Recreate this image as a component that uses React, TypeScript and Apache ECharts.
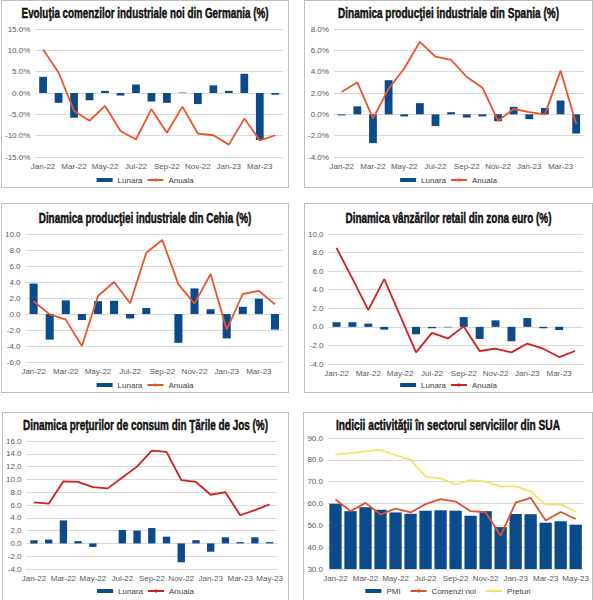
import { useEffect, useRef } from 'react'
import * as echarts from 'echarts'

const months16 = ['Jan-22', 'Feb-22', 'Mar-22', 'Apr-22', 'May-22', 'Jun-22', 'Jul-22', 'Aug-22',
  'Sep-22', 'Oct-22', 'Nov-22', 'Dec-22', 'Jan-23', 'Feb-23', 'Mar-23', 'Apr-23']
const months17 = [...months16, 'May-23']

// Germania - comenzi industriale noi
const deLunara = [3.8, -2.3, -5.8, -1.7, 0.5, -0.6, 2.0, -2.0, -2.3, 0.1, -2.6, 1.8, 0.5, 4.5, -11.0, -0.4]
const deAnuala = [10.2, 4.8, -4.2, -6.5, -3.0, -8.9, -10.9, -3.8, -9.3, -3.2, -9.5, -9.9, -12.1, -6.0, -11.1, -9.9]

// Spania - productie industriala
const esLunara = [-0.1, 0.75, -2.7, 3.2, -0.2, 1.05, -1.1, 0.2, -0.3, -0.2, -0.65, 0.7, -0.45, 0.6, 1.3, -1.8]
const esAnuala = [2.1, 3.0, -0.4, 2.4, 4.3, 6.8, 5.4, 5.1, 3.5, 2.5, -0.6, 0.5, 0.2, 0.0, 4.1, -0.9]

// Cehia - productie industriala
const czLunara = [3.8, -3.2, 1.7, -0.75, 1.6, 1.65, -0.55, 0.75, 0, -3.6, 3.2, 0.6, -3.05, 0.9, 1.9, -1.95]
const czAnuala = [1.6, -0.05, -0.7, -4.0, 2.25, 4.0, 1.35, 7.65, 9.25, 3.7, 1.3, 5.0, -1.95, 2.5, 2.9, 1.2]

// Zona euro - vanzari retail
const euLunara = [0.5, 0.5, 0.35, -0.3, 0, -0.8, -0.15, -0.05, 1.05, -1.3, 0.7, -1.55, 0.95, -0.15, -0.35, 0]
const euAnuala = [8.5, 5.2, 1.8, 5.15, 1.2, -2.75, -0.65, -1.25, 0.05, -2.6, -2.35, -2.75, -1.8, -2.35, -3.25, -2.6]

// Tarile de Jos - preturi de consum
const nlLunara = [0.5, 0.6, 3.6, 0.35, -0.55, 0, 2.1, 2.0, 2.4, 1.05, -2.95, 0.5, -1.3, 0.95, 0.2, 0.95, 0.2]
const nlAnuala = [6.4, 6.2, 9.7, 9.6, 8.8, 8.6, 10.3, 12.0, 14.5, 14.3, 9.9, 9.6, 7.6, 8.0, 4.4, 5.2, 6.1]

// SUA - sectorul serviciilor
const usPmi = [59.9, 56.5, 58.3, 57.1, 55.9, 55.3, 56.7, 56.9, 56.7, 54.4, 56.5, 49.2, 55.2, 55.1, 51.2, 51.9, 50.3]
const usComenzi = [61.8, 56.5, 60.3, 54.9, 57.7, 55.9, 59.7, 62.0, 60.9, 56.5, 56.0, 45.2, 60.4, 62.6, 52.2, 56.1, 52.9]
const usPreturi = [82.4, 83.1, 83.9, 84.6, 82.1, 80.1, 72.3, 71.5, 68.7, 70.7, 70.0, 67.8, 67.8, 65.6, 59.5, 59.6, 56.2]

const BLUE = '#0b4a8b'
const ORANGE = '#e8552b'
const RED = '#d01f1f'
const YELLOW = '#f2e266'

const TITLE_FONT = 'bold 15px "Liberation Sans"'

type Panel = {
  title: string
  titleWidth: number
  box: [number, number, number, number]
  grid: [number, number, number, number]
  titleY: number
  legendY: number
  legendGap: number
  cats: string[]
  min: number
  max: number
  interval: number
  pct: boolean
  barWidth: string
  series: { name: string; type: 'bar' | 'line'; data: number[]; color: string }[]
}

const panels: Panel[] = [
  {
    title: 'Evoluţia comenzilor industriale noi din Germania (%)', titleWidth: 247,
    box: [1, 0, 288, 188], grid: [32, 29, 283, 157], titleY: 13, legendY: 183, legendGap: 4,
    cats: months16, min: -15, max: 15, interval: 5, pct: true, barWidth: '50%',
    series: [
      { name: 'Lunara', type: 'bar', data: deLunara, color: BLUE },
      { name: 'Anuala', type: 'line', data: deAnuala, color: ORANGE },
    ],
  },
  {
    title: 'Dinamica producţiei industriale din Spania (%)', titleWidth: 221,
    box: [304, 0, 289, 188], grid: [331, 29, 584, 157], titleY: 13, legendY: 183, legendGap: 4,
    cats: months16, min: -4, max: 8, interval: 2, pct: true, barWidth: '50%',
    series: [
      { name: 'Lunara', type: 'bar', data: esLunara, color: BLUE },
      { name: 'Anuala', type: 'line', data: esAnuala, color: ORANGE },
    ],
  },
  {
    title: 'Dinamica producţiei industriale din Cehia (%)', titleWidth: 213,
    box: [1, 203, 288, 190], grid: [22, 234, 283, 362], titleY: 218, legendY: 388, legendGap: 4,
    cats: months16, min: -6, max: 10, interval: 2, pct: false, barWidth: '50%',
    series: [
      { name: 'Lunara', type: 'bar', data: czLunara, color: BLUE },
      { name: 'Anuala', type: 'line', data: czAnuala, color: ORANGE },
    ],
  },
  {
    title: 'Dinamica vânzărilor retail din zona euro (%)', titleWidth: 206,
    box: [304, 203, 289, 190], grid: [326, 234, 583, 364], titleY: 218, legendY: 388, legendGap: 4,
    cats: months16, min: -4, max: 10, interval: 2, pct: false, barWidth: '50%',
    series: [
      { name: 'Lunara', type: 'bar', data: euLunara, color: BLUE },
      { name: 'Anuala', type: 'line', data: euAnuala, color: RED },
    ],
  },
  {
    title: 'Dinamica preţurilor de consum din Ţările de Jos (%)', titleWidth: 245,
    box: [2, 412, 287, 190], grid: [25, 441, 277, 569], titleY: 425, legendY: 594, legendGap: 4,
    cats: months17, min: -4, max: 16, interval: 2, pct: false, barWidth: '50%',
    series: [
      { name: 'Lunara', type: 'bar', data: nlLunara, color: BLUE },
      { name: 'Anuala', type: 'line', data: nlAnuala, color: RED },
    ],
  },
  {
    title: 'Indicii activităţii în sectorul serviciilor din SUA', titleWidth: 224,
    box: [303, 412, 290, 190], grid: [328, 438, 584, 569], titleY: 425, legendY: 594, legendGap: 9,
    cats: months17, min: 30, max: 90, interval: 10, pct: false, barWidth: '82%',
    series: [
      { name: 'PMI', type: 'bar', data: usPmi, color: BLUE },
      { name: 'Comenzi noi', type: 'line', data: usComenzi, color: '#e0502a' },
      { name: 'Preturi', type: 'line', data: usPreturi, color: YELLOW },
    ],
  },
]

function measure(text: string) {
  const ctx = document.createElement('canvas').getContext('2d')
  if (!ctx) return text.length * 8
  ctx.font = TITLE_FONT
  return ctx.measureText(text).width
}

function ChartPanel({ p }: { p: Panel }) {
  const ref = useRef<HTMLDivElement>(null)
  const [bx, by, bw, bh] = p.box
  const cx = bx + 1
  const cy = by + 1
  const cw = bw - 2
  const ch = bh - 2

  useEffect(() => {
    if (!ref.current) return
    const chart = echarts.init(ref.current, null, { renderer: 'svg' })
    const [gx1, gy1, gx2, gy2] = p.grid
    const sx = p.titleWidth / measure(p.title)
    chart.setOption({
      animation: false,
      graphic: [
        {
          type: 'text',
          x: cw / 2,
          y: p.titleY - cy,
          scaleX: sx,
          style: {
            text: p.title,
            fontFamily: 'Liberation Sans',
            fontWeight: 'bold',
            fontSize: 15,
            fill: '#111',
            stroke: '#111',
            lineWidth: 0.5,
            align: 'center',
            verticalAlign: 'middle',
          },
        },
      ],
      legend: {
        bottom: cy + ch - p.legendY - 6,
        left: 'center',
        itemWidth: 16,
        itemHeight: 4,
        itemGap: p.legendGap,
        textStyle: { fontSize: 8, color: '#404040', fontFamily: 'Liberation Sans' },
        data: p.series.map((s) => ({ name: s.name, icon: s.type === 'bar' ? 'rect' : undefined })),
      },
      grid: {
        left: gx1 - cx,
        top: gy1 - cy,
        right: cx + cw - gx2,
        bottom: cy + ch - gy2,
      },
      xAxis: {
        type: 'category',
        data: p.cats,
        axisLine: { onZero: false, lineStyle: { color: '#d9d9d9' } },
        axisTick: { show: false },
        axisLabel: {
          interval: 1,
          fontSize: 8,
          color: '#595959',
          margin: 5,
          fontFamily: 'Liberation Sans',
        },
      },
      yAxis: {
        type: 'value',
        min: p.min,
        max: p.max,
        interval: p.interval,
        axisLine: { show: false },
        axisTick: { show: false },
        splitLine: { lineStyle: { color: '#d9d9d9', width: 1 } },
        axisLabel: {
          fontSize: 8,
          color: '#595959',
          margin: 5,
          fontFamily: 'Liberation Sans',
          formatter: (v: number) => v.toFixed(1) + (p.pct ? '%' : ''),
        },
      },
      series: p.series.map((s) =>
        s.type === 'bar'
          ? {
              name: s.name,
              type: 'bar',
              data: s.data,
              barWidth: p.barWidth,
              itemStyle: { color: s.color },
            }
          : {
              name: s.name,
              type: 'line',
              data: s.data,
              symbol: 'none',
              z: 3,
              lineStyle: { color: s.color, width: 1.8 },
              itemStyle: { color: s.color },
            }
      ),
    })
    return () => {
      chart.dispose()
    }
  }, [])

  return (
    <>
      <div
        style={{
          position: 'absolute',
          left: bx,
          top: by,
          width: bw,
          height: bh,
          boxSizing: 'border-box',
          border: '1px solid #bfbfbf',
        }}
      />
      <div ref={ref} style={{ position: 'absolute', left: cx, top: cy, width: cw, height: ch }} />
    </>
  )
}

export default function App() {
  return (
    <div
      style={{
        position: 'fixed',
        left: 0,
        top: 0,
        width: 593,
        height: 600,
        background: '#fff',
        overflow: 'hidden',
      }}
    >
      {panels.map((p, i) => (
        <ChartPanel key={i} p={p} />
      ))}
    </div>
  )
}
